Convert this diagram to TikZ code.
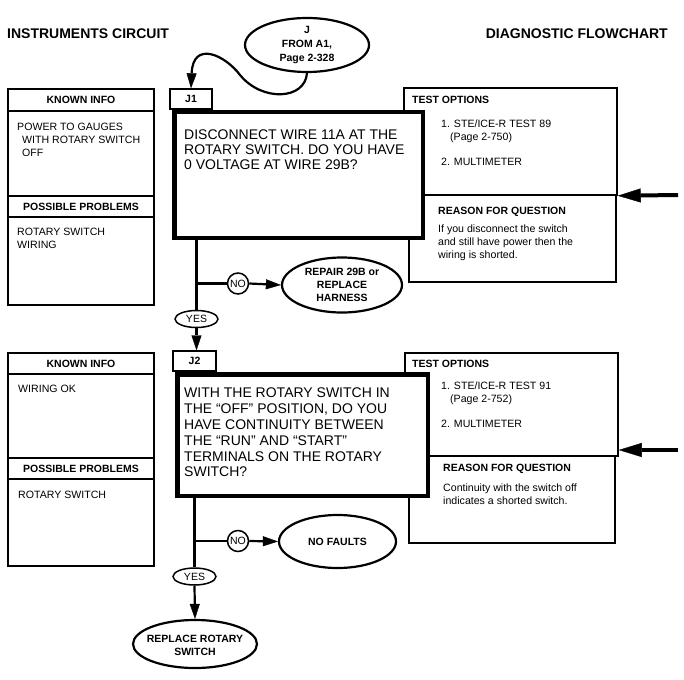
\documentclass[tikz,border=0pt]{standalone}
\usepackage{fontspec}
\setmainfont{Liberation Sans}
\usetikzlibrary{arrows.meta,shapes.geometric}
\tikzset{
  infobox/.style={draw, line width=1.5pt, inner sep=0pt},
  qbox/.style={draw, line width=4.5pt, fill=white, inner sep=0pt},
  tagbox/.style={draw, line width=1.4pt, fill=white, inner sep=0pt, font=\bfseries\fontsize{10.5}{12}\selectfont},
  oval/.style={ellipse, draw, line width=2.2pt, fill=white, inner sep=0pt, align=center, font=\bfseries\fontsize{10.5}{13}\selectfont},
  ovaltxt/.style={inner sep=0pt, align=center, font=\bfseries\fontsize{10.5}{13}\selectfont},
  yesoval/.style={ellipse, draw, line width=1.5pt, fill=white, inner sep=0pt, font=\fontsize{10.5}{12}\selectfont},
  nocirc/.style={circle, draw, line width=1.5pt, fill=white, inner sep=0pt, minimum size=21pt, font=\fontsize{10.5}{12}\selectfont},
  flow/.style={line width=2.2pt},
  flowtip/.style={-{Triangle[length=15pt,width=10pt,line width=0.4pt]}},
  bigarrow/.style={line width=4pt, -{Triangle[length=23pt,width=14pt,line width=0.4pt]}},
  titletxt/.style={font=\bfseries\fontsize{14}{16}\selectfont, inner sep=0pt},
  headtxt/.style={font=\bfseries\fontsize{10.5}{12}\selectfont, inner sep=0pt},
  smalltxt/.style={font=\fontsize{10.6}{13}\selectfont, inner sep=0pt, align=left, anchor=north west},
  bigtxt/.style={font=\fontsize{14}{15}\selectfont, inner sep=0pt, align=left, anchor=north west},
}
\begin{document}
\begin{tikzpicture}[x=1pt,y=-1pt]
\useasboundingbox (0,0) rectangle (684,679);

% titles
\node[titletxt, anchor=west] (title1) at (7,34) {INSTRUMENTS CIRCUIT};
\node[titletxt, anchor=east] (title2) at (668,34) {DIAGNOSTIC FLOWCHART};

% ---------- block J1 ----------
% known info panel
\node[infobox, minimum width=146pt, minimum height=216pt] (k1) at (81,197) {};
\draw[line width=1.5pt] (k1.west |- 0,111) -- (k1.east |- 0,111);
\draw[line width=1.5pt] (k1.west |- 0,196) -- (k1.east |- 0,196);
\draw[line width=1.5pt] (k1.west |- 0,217) -- (k1.east |- 0,217);
\node[headtxt] (k1h) at (81,100) {KNOWN INFO};
\node[smalltxt] (k1b) at (17,123.2) {POWER TO GAUGES\\\hspace*{5pt}WITH ROTARY SWITCH\\\hspace*{5pt}OFF};
\node[headtxt] (k1p) at (81,207) {POSSIBLE PROBLEMS};
\node[smalltxt] (k1q) at (17,228.2) {ROTARY SWITCH\\WIRING};

% test options panel
\node[infobox, minimum width=213pt, minimum height=107pt] (t1u) at (510.5,141.5) {};
\node[infobox, minimum width=207pt, minimum height=87pt] (t1l) at (512.5,238.5) {};
\node[headtxt, anchor=west] (t1h) at (412,100) {TEST OPTIONS};
\node[smalltxt, font=\fontsize{10.6}{13.5}\selectfont] (t1o) at (441,119.2) {1. STE/ICE-R TEST 89\\\hspace*{9pt}(Page 2-750)\\[11pt]2. MULTIMETER};
\node[headtxt, anchor=west] (t1r) at (438,212) {REASON FOR QUESTION};
\node[smalltxt] (t1b) at (438,224.2) {If you disconnect the switch\\and still have power then the\\wiring is shorted.};
\coordinate (a1) at (678,195);
\draw[bigarrow] (a1) -- (t1u.south east);

% question box
\node[qbox, minimum width=248.5pt, minimum height=125.5pt] (q1) at (298.5,175) {};
\node[tagbox, minimum width=42pt, minimum height=20pt] (l1) at (191,99) {J1};
\node[bigtxt] (q1t) at (184,130) {DISCONNECT WIRE 11A AT THE\\ROTARY SWITCH. DO YOU HAVE\\0 VOLTAGE AT WIRE 29B?};

% entry ellipse
\node[oval, font=\bfseries\fontsize{10.5}{14}\selectfont, minimum width=124pt, minimum height=54pt] (jell) at (307,45) {J\\FROM A1,\\Page 2-328};
\draw[flow, flowtip] (jell.south) .. controls (305,100) and (262,102) .. (240,75) .. controls (225,55) and (193,40) .. (l1.north);

% outcomes of J1
\node[yesoval, minimum width=43pt, minimum height=17pt] (yes1) at (196.5,319) {YES};
\node[nocirc] (no1) at (238,283.5) {NO};
\node[oval, minimum width=120pt, minimum height=55pt] (rep1) at (342,285) {REPAIR 29B or\\REPLACE\\HARNESS};

% ---------- block J2 ----------
\node[infobox, minimum width=146pt, minimum height=213pt] (k2) at (81,459.5) {};
\draw[line width=1.5pt] (k2.west |- 0,374) -- (k2.east |- 0,374);
\draw[line width=1.5pt] (k2.west |- 0,458) -- (k2.east |- 0,458);
\draw[line width=1.5pt] (k2.west |- 0,479) -- (k2.east |- 0,479);
\node[headtxt] (k2h) at (81,364) {KNOWN INFO};
\node[smalltxt, anchor=west] (k2b) at (18,389) {WIRING OK};
\node[headtxt] (k2p) at (81,469) {POSSIBLE PROBLEMS};
\node[smalltxt, anchor=west] (k2q) at (18,495) {ROTARY SWITCH};

\node[infobox, minimum width=213pt, minimum height=103pt] (t2u) at (511.5,404.5) {};
\node[infobox, minimum width=206pt, minimum height=87pt] (t2l) at (512,499.5) {};
\node[headtxt, anchor=west] (t2h) at (412,364) {TEST OPTIONS};
\node[smalltxt, font=\fontsize{10.6}{13.5}\selectfont] (t2o) at (441,381.2) {1. STE/ICE-R TEST 91\\\hspace*{9pt}(Page 2-752)\\[11pt]2. MULTIMETER};
\node[headtxt, anchor=west] (t2r) at (443,469) {REASON FOR QUESTION};
\node[smalltxt] (t2b) at (443,483.2) {Continuity with the switch off\\indicates a shorted switch.};
\coordinate (a2) at (678,450);
\draw[bigarrow] (a2) -- (a2 -| t2u.east);

\node[qbox, minimum width=250.5pt, minimum height=121.5pt] (q2) at (302.5,435) {};
\node[tagbox, minimum width=43pt, minimum height=20pt] (l2) at (194.5,361) {J2};
\node[bigtxt, font=\fontsize{14}{15.8}\selectfont] (q2t) at (184,388) {WITH THE ROTARY SWITCH IN\\THE “OFF” POSITION, DO YOU\\HAVE CONTINUITY BETWEEN\\THE “RUN” AND “START”\\TERMINALS ON THE ROTARY\\SWITCH?};

\node[yesoval, minimum width=43pt, minimum height=17pt] (yes2) at (194.5,576.5) {YES};
\node[nocirc] (no2) at (238,541) {NO};
\node[oval, minimum width=117pt, minimum height=53pt] (nof) at (337.5,541.5) {NO FAULTS};
\node[oval, minimum width=124pt, minimum height=48pt] (rep2) at (195,644) {};
\node[ovaltxt] (rep2t) at (195,645.5) {REPLACE ROTARY\\SWITCH};

% ---------- connectors ----------
\draw[flow] (q1.south -| yes1) -- (yes1.north);
\draw[flow] (yes1.north |- no1) -- (no1.west);
\draw[flow, flowtip] (no1.east) -- (rep1.west);
\draw[flow, flowtip] (yes1.south) -- (yes1.south |- l2.north);

\draw[flow] (q2.south -| yes2) -- (yes2.north);
\draw[flow] (yes2.north |- no2) -- (no2.west);
\draw[flow, flowtip] (no2.east) -- (nof.west);
\draw[flow, flowtip] (yes2.south) -- (rep2.north);
\end{tikzpicture}
\end{document}
